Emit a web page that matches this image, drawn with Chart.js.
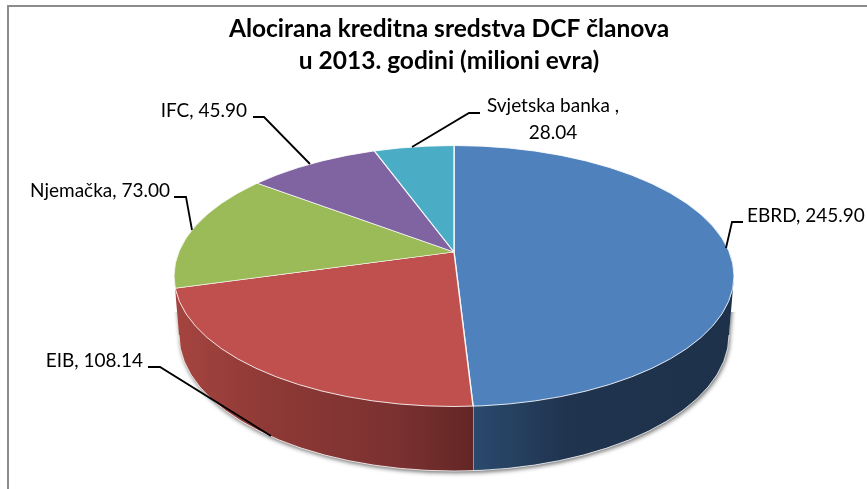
<!DOCTYPE html>
<html><head><meta charset="utf-8">
<script src="https://cdn.jsdelivr.net/npm/chart.js@4"></script>
<style>html,body{margin:0;padding:0;background:#fff}#w{width:867px;height:489px;position:relative}</style>
</head><body><div id="w"><canvas id="c" width="867" height="489"></canvas></div>
<script>
const categories = ['EBRD', 'EIB', 'Njemačka', 'IFC', 'Svjetska banka '];
const values = [245.90, 108.14, 73.00, 45.90, 28.04];
const topColors = ['#4F81BD', '#C0504D', '#9BBB59', '#8064A2', '#4BACC6'];
const wallStops = [
  [[0, '#2a4a6e'], [0.35, '#20344f'], [1, '#1d314a']],
  [[0, '#a5443f'], [0.32, '#8e3936'], [0.75, '#7a3130'], [1, '#632625']],
  [[0, '#7d9a45'], [1, '#7d9a45']], [[0, '#5f4a7a'], [1, '#5f4a7a']], [[0, '#35879d'], [1, '#35879d']]
];
const titleLines = ['Alocirana kreditna sredstva DCF članova', 'u 2013. godini (milioni evra)'];

// perspective geometry of the drawing
const apex = {x: 454, y: 252}, squash = 0.466;
const topE = {x: 454, y: 276, rx: 280, ry: 130.5};
const botE = {x: 454, y: 335, rx: 275, ry: 136};
// label layout: text anchor + leader polyline
const labelFont = '19px Lato';
const labelLayout = [
  {lines: i => [lab(i)], x: 747, y: 216, align: 'left', leader: [[743,222],[732,222],[726,248]]},
  {lines: i => [lab(i)], x: 143, y: 361, align: 'right', leader: [[148,367],[160,367],[271,436]]},
  {lines: i => [lab(i)], x: 170, y: 191, align: 'right', leader: [[174,197],[186,197],[192,230]]},
  {lines: i => [lab(i)], x: 247, y: 111, align: 'right', leader: [[253,117],[264,117],[310,164]]},
  {lines: i => [categories[i] + ',', values[i].toFixed(2)], x: 553, y: 106, align: 'center', leader: [[480,113],[469,113],[412,147]]}
];
function lab(i) { return categories[i] + ', ' + values[i].toFixed(2); }

function ellipsePath(ctx, e) { ctx.beginPath(); ctx.ellipse(e.x, e.y, e.rx, e.ry, 0, 0, Math.PI * 2); ctx.closePath(); }
function rayHit(angle) { // where a slice boundary meets the top ellipse outline
  const dx = Math.cos(angle), dy = Math.sin(angle) * squash;
  const ox = apex.x - topE.x, oy = apex.y - topE.y;
  const A = dx*dx/(topE.rx*topE.rx) + dy*dy/(topE.ry*topE.ry);
  const B = 2*(ox*dx/(topE.rx*topE.rx) + oy*dy/(topE.ry*topE.ry));
  const C = ox*ox/(topE.rx*topE.rx) + oy*oy/(topE.ry*topE.ry) - 1;
  const t = (-B + Math.sqrt(B*B - 4*A*C)) / (2*A);
  return {x: apex.x + t*dx, y: apex.y + t*dy};
}
function hullPath(ctx) {
  ctx.beginPath();
  ctx.ellipse(botE.x, botE.y, botE.rx, botE.ry, 0, 0, Math.PI);
  ctx.lineTo(topE.x - topE.rx, topE.y);
  ctx.lineTo(topE.x + topE.rx, topE.y);
  ctx.closePath();
}

const pie3d = {
  id: 'pie3d',
  beforeDraw(chart) {
    const ctx = chart.ctx;
    ctx.save();
    ctx.strokeStyle = '#8c8c8c'; ctx.lineWidth = 2;
    ctx.beginPath(); ctx.moveTo(8, 489); ctx.lineTo(8, 6); ctx.lineTo(867, 6); ctx.stroke();
    ctx.restore();
  },
  beforeDatasetsDraw(chart) {
    const ctx = chart.ctx, arcs = chart.getDatasetMeta(0).data;
    // shadow under the body, only along its lower part
    ctx.save();
    ctx.beginPath(); ctx.rect(0, 312, 867, 177); ctx.clip();
    ctx.shadowColor = 'rgba(0,0,0,0.55)'; ctx.shadowBlur = 4; ctx.shadowOffsetX = 1; ctx.shadowOffsetY = 2;
    ctx.fillStyle = '#fff'; hullPath(ctx); ctx.fill();
    ctx.restore();
    // side walls
    arcs.forEach((arc, i) => {
      const s = rayHit(arc.startAngle), e = rayHit(arc.endAngle);
      const sLow = s.y > topE.y, eLow = e.y > topE.y;
      if (!sLow && !eLow) return;
      const xMin = eLow ? (sLow ? Math.min(s.x, e.x) : e.x) : topE.x - topE.rx - 2;
      const xMax = sLow ? (eLow ? Math.max(s.x, e.x) : s.x) : topE.x + topE.rx + 2;
      const a = (!sLow && eLow) ? e.x : xMin, b = (!sLow && eLow) ? topE.x + topE.rx : xMax;
      const g = ctx.createLinearGradient(a, 0, b, 0);
      wallStops[i].forEach(st => g.addColorStop(st[0], st[1]));
      ctx.save();
      ctx.beginPath(); ctx.rect(a, 0, b - a, 489); ctx.clip();
      ctx.fillStyle = g; hullPath(ctx); ctx.fill();
      ctx.restore();
      if (eLow) { // white seam on the front edge
        const t = (e.x - botE.x) / botE.rx;
        const yb = botE.y + botE.ry * Math.sqrt(Math.max(0, 1 - t*t));
        if (sLow === false) {
          ctx.save(); ctx.strokeStyle = 'rgba(255,255,255,0.85)'; ctx.lineWidth = 1;
          ctx.beginPath(); ctx.moveTo(e.x, e.y); ctx.lineTo(e.x, yb); ctx.stroke(); ctx.restore();
        }
      }
    });
    // light rim along the wall foot
    ctx.save(); ctx.strokeStyle = 'rgba(255,255,255,0.75)'; ctx.lineWidth = 1;
    ctx.beginPath(); ctx.ellipse(botE.x, botE.y, botE.rx, botE.ry, 0, 0, Math.PI); ctx.stroke(); ctx.restore();
    // top face: library arcs, squashed and clipped by the outline
    const c = arcs[0];
    ctx.save();
    ellipsePath(ctx, topE); ctx.clip();
    ctx.translate(apex.x, apex.y); ctx.scale(1, squash); ctx.translate(-c.x, -c.y);
  },
  afterDatasetsDraw(chart) {
    const ctx = chart.ctx;
    ctx.restore();
    ctx.save();
    ctx.strokeStyle = 'rgba(255,255,255,0.85)'; ctx.lineWidth = 1;
    ellipsePath(ctx, topE); ctx.stroke();
    ctx.restore();
    // labels and leaders
    ctx.save();
    ctx.font = labelFont; ctx.fillStyle = '#000'; ctx.textBaseline = 'middle';
    labelLayout.forEach((l, i) => {
      ctx.textAlign = l.align;
      l.lines(i).forEach((t, k) => ctx.fillText(t, l.x, l.y + k * 27));
      ctx.strokeStyle = '#000'; ctx.lineWidth = 1.8;
      ctx.beginPath();
      l.leader.forEach((p, k) => k ? ctx.lineTo(p[0], p[1]) : ctx.moveTo(p[0], p[1]));
      ctx.stroke();
    });
    ctx.restore();
  }
};

new Chart(document.getElementById('c'), {
  type: 'pie',
  data: {labels: categories, datasets: [{
    data: values, backgroundColor: topColors, borderColor: 'rgba(255,255,255,0.9)', borderWidth: 1.4, clip: false
  }]},
  options: {
    responsive: false, animation: false, radius: 345,
    layout: {padding: {left: 31}},
    plugins: {
      legend: {display: false}, tooltip: {enabled: false},
      title: {display: true, text: titleLines, color: '#000', align: 'center',
        font: {family: 'Lato', size: 24.5, weight: 'bold', lineHeight: 1.3},
        padding: {top: 13, bottom: 0}}
    }
  },
  plugins: [pie3d]
});
</script></body></html>
